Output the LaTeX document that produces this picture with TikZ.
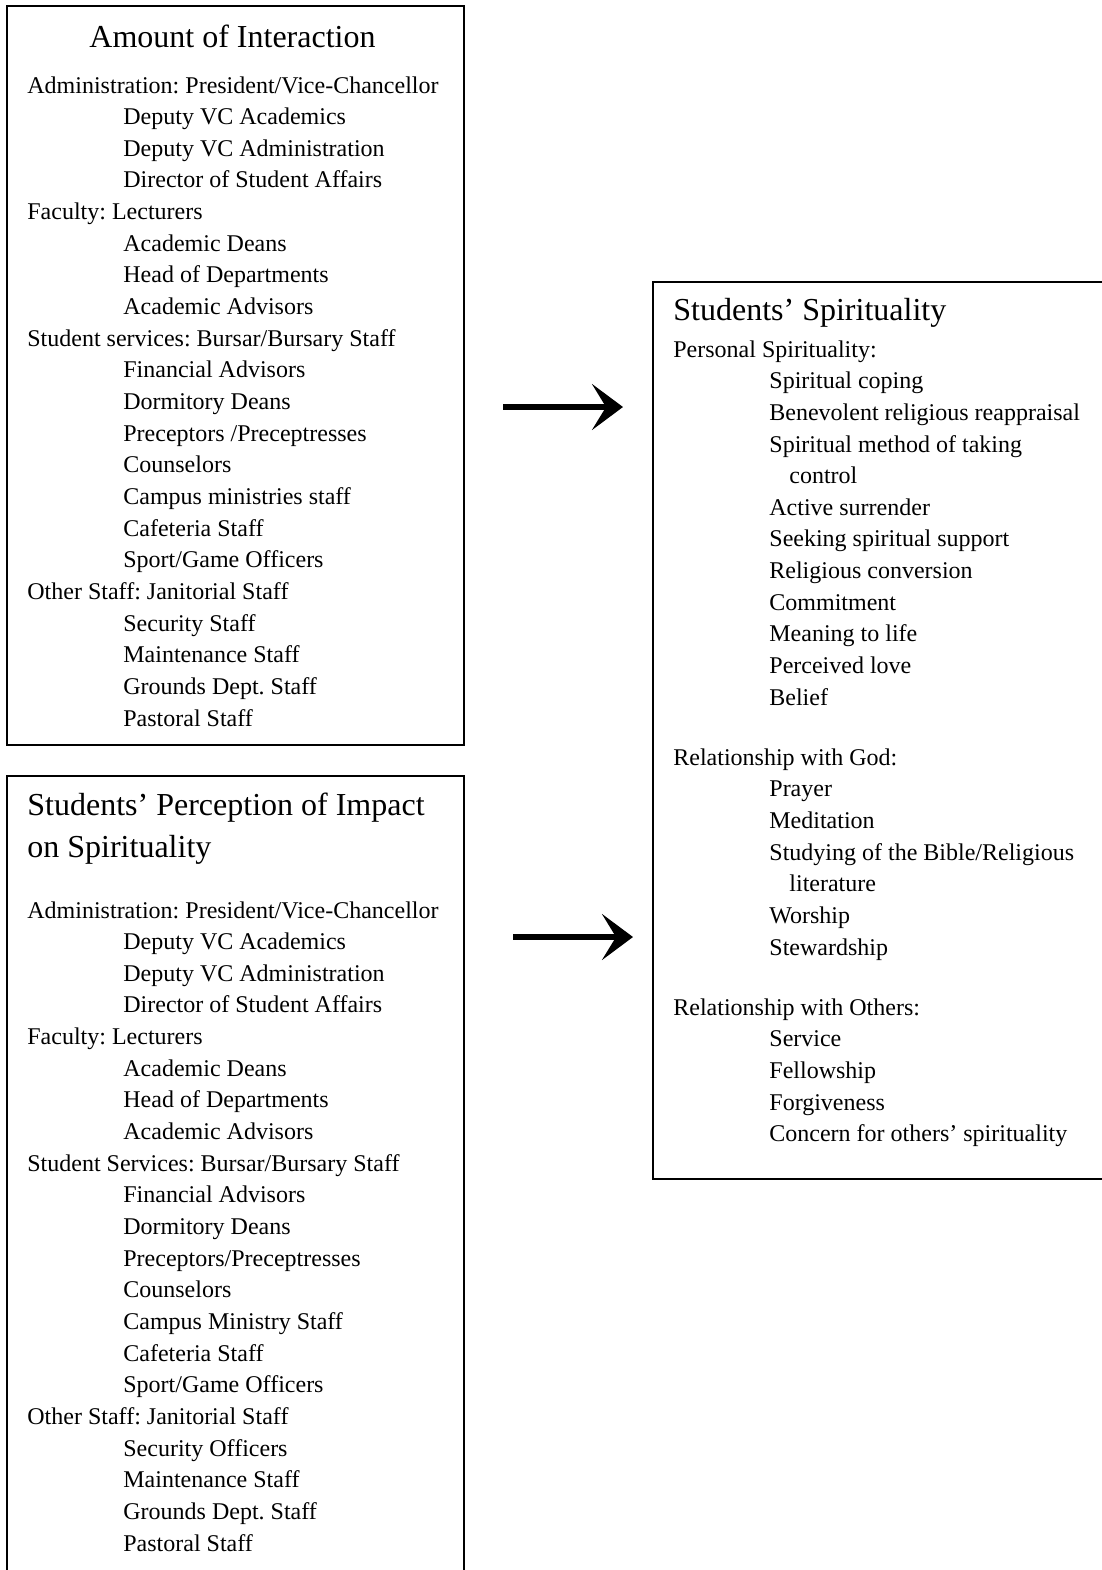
\documentclass[tikz,border=0pt]{standalone}
\usepackage{fontspec}
\setmainfont{Liberation Serif}
\frenchspacing
\usetikzlibrary{arrows.meta}
\tikzset{
  body/.style={anchor=base west, inner sep=0pt, font=\fontsize{12}{14}\selectfont},
  ttl/.style={anchor=base west, inner sep=0pt, font=\fontsize{16}{19}\selectfont},
  boxline/.style={line width=1pt, black},
  bigarrow/.style={line width=2.6pt, -{Stealth[length=15.5pt, width=23pt, inset=7pt]}}
}
\begin{document}
\begin{tikzpicture}[x=0.5pt, y=-0.5pt]
\useasboundingbox (0,0) rectangle (1102,1570);
% boxes
\draw[boxline] (7,6) rectangle (464,745);
\draw[boxline] (7,1572) -- (7,776) -- (464,776) -- (464,1572);
\draw[boxline] (1106,282) -- (653,282) -- (653,1179) -- (1106,1179);
% box 1
\node[ttl] (t1) at (89,47) {Amount of Interaction};
\foreach \xx/\txt [count=\i from 0] in {
  27/{Administration: President/Vice-Chancellor},
  123/{Deputy VC Academics},
  123/{Deputy VC Administration},
  123/{Director of Student Affairs},
  27/{Faculty: Lecturers},
  123/{Academic Deans},
  123/{Head of Departments},
  123/{Academic Advisors},
  27/{Student services: Bursar/Bursary Staff},
  123/{Financial Advisors},
  123/{Dormitory Deans},
  123/{Preceptors /Preceptresses},
  123/{Counselors},
  123/{Campus ministries staff},
  123/{Cafeteria Staff},
  123/{Sport/Game Officers},
  27/{Other Staff: Janitorial Staff},
  123/{Security Staff},
  123/{Maintenance Staff},
  123/{Grounds Dept. Staff},
  123/{Pastoral Staff}}
  \node[body] (b1-\i) at (\xx, 93+31.65*\i) {\txt};
% box 2
\node[ttl] (t2a) at (27,815) {Students’ Perception of Impact};
\node[ttl] (t2b) at (27,857) {on Spirituality};
\foreach \xx/\txt [count=\i from 0] in {
  27/{Administration: President/Vice-Chancellor},
  123/{Deputy VC Academics},
  123/{Deputy VC Administration},
  123/{Director of Student Affairs},
  27/{Faculty: Lecturers},
  123/{Academic Deans},
  123/{Head of Departments},
  123/{Academic Advisors},
  27/{Student Services: Bursar/Bursary Staff},
  123/{Financial Advisors},
  123/{Dormitory Deans},
  123/{Preceptors/Preceptresses},
  123/{Counselors},
  123/{Campus Ministry Staff},
  123/{Cafeteria Staff},
  123/{Sport/Game Officers},
  27/{Other Staff: Janitorial Staff},
  123/{Security Officers},
  123/{Maintenance Staff},
  123/{Grounds Dept. Staff},
  123/{Pastoral Staff}}
  \node[body] (b2-\i) at (\xx, 918+31.65*\i) {\txt};
% box 3
\node[ttl] (t3) at (673,320) {Students’ Spirituality};
\foreach \xx/\yy/\txt [count=\i from 0] in {
  673/357/{Personal Spirituality:},
  769/388.6/{Spiritual coping},
  769/420.3/{Benevolent religious reappraisal},
  769/452/{Spiritual method of taking},
  789/483.6/{control},
  769/515.2/{Active surrender},
  769/546.9/{Seeking spiritual support},
  769/578.5/{Religious conversion},
  769/610.2/{Commitment},
  769/641.8/{Meaning to life},
  769/673.5/{Perceived love},
  769/705.1/{Belief},
  673/765/{Relationship with God:},
  769/796.6/{Prayer},
  769/828.3/{Meditation},
  769/860/{Studying of the Bible/Religious},
  789/891.6/{literature},
  769/923.3/{Worship},
  769/955/{Stewardship},
  673/1015/{Relationship with Others:},
  769/1046.6/{Service},
  769/1078.3/{Fellowship},
  769/1110/{Forgiveness},
  769/1141.6/{Concern for others’ spirituality}}
  \node[body] (b3-\i) at (\xx,\yy) {\txt};
% arrows
\coordinate (a1s) at (503,407);
\coordinate (a1e) at (623,407);
\coordinate (a2s) at (513,937);
\coordinate (a2e) at (633,937);
\draw[bigarrow] (a1s) -- (a1e);
\draw[bigarrow] (a2s) -- (a2e);
\end{tikzpicture}
\end{document}
